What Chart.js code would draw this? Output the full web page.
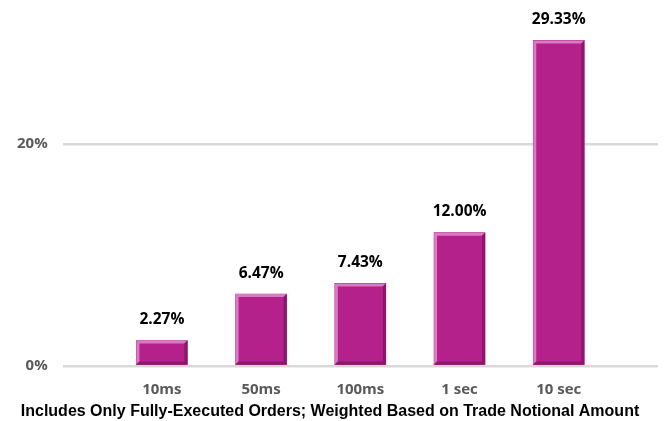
<!DOCTYPE html>
<html lang="en">
<head>
    <meta charset="UTF-8">
    <title>Fill Time Distribution</title>
    <script src="https://cdn.jsdelivr.net/npm/chart.js"></script>
    <style>
        body { margin: 0; background: #fff; }
        #wrap { width: 665px; height: 421px; }
    </style>
</head>
<body>
    <div id="wrap"><canvas id="fillChart"></canvas></div>
    <script>
        // data
        const categories = ['10ms', '50ms', '100ms', '1 sec', '10 sec'];
        const shares = [2.27, 6.47, 7.43, 12.00, 29.33];
        const yTicks = [0, 20];
        const footnote = 'Includes Only Fully-Executed Orders; Weighted Based on Trade Notional Amount';

        // one empty slot each side so the bars sit where the original has them
        const labels = [''].concat(categories, ['']);
        const values = [null].concat(shares, [null]);

        // bevelled bar edges + value labels on top
        const barDecor = {
            id: 'barDecor',
            afterDatasetsDraw(chart) {
                const ctx = chart.ctx;
                const meta = chart.getDatasetMeta(0);
                ctx.save();
                meta.data.forEach((bar, i) => {
                    if (values[i] == null) return;
                    const l = bar.x - bar.width / 2, r = bar.x + bar.width / 2;
                    const t = bar.y, b = bar.base;
                    const e = 3;
                    // light top / left
                    ctx.fillStyle = '#d77cc1';
                    ctx.beginPath();
                    ctx.moveTo(l, b); ctx.lineTo(l, t); ctx.lineTo(r, t);
                    ctx.lineTo(r - e, t + e); ctx.lineTo(l + e, t + e); ctx.lineTo(l + e, b - e);
                    ctx.closePath(); ctx.fill();
                    // dark bottom / right
                    ctx.fillStyle = '#8c166b';
                    ctx.beginPath();
                    ctx.moveTo(r, t); ctx.lineTo(r, b); ctx.lineTo(l, b);
                    ctx.lineTo(l + e, b - e); ctx.lineTo(r - e, b - e); ctx.lineTo(r - e, t + e);
                    ctx.closePath(); ctx.fill();

                    ctx.fillStyle = '#000';
                    ctx.font = 'bold 15.5px "Open Sans", sans-serif';
                    ctx.textAlign = 'center';
                    ctx.textBaseline = 'bottom';
                    ctx.fillText(values[i].toFixed(2) + '%', bar.x, t - 13);
                });
                ctx.restore();
            }
        };

        new Chart(document.getElementById('fillChart'), {
            type: 'bar',
            data: {
                labels: labels,
                datasets: [{
                    data: values,
                    backgroundColor: '#b5218b',
                    borderWidth: 0,
                    barThickness: 51
                }]
            },
            options: {
                responsive: true,
                maintainAspectRatio: false,
                animation: false,
                layout: { padding: { top: 33, right: 7, bottom: 0, left: 2 } },
                plugins: {
                    legend: { display: false },
                    tooltip: { enabled: false },
                    title: {
                        display: true,
                        position: 'bottom',
                        text: footnote,
                        color: '#000',
                        font: { family: '"Liberation Sans", Arial, sans-serif', size: 16, weight: 'bold' },
                        padding: { top: -12, bottom: 0 }
                    }
                },
                scales: {
                    x: {
                        offset: false,
                        grid: { display: false, drawTicks: false },
                        border: { display: false },
                        // tick padding otherwise eats into the right edge
                        afterFit(scale) {
                            scale.paddingLeft = 0;
                            scale.paddingRight = 0;
                        },
                        ticks: {
                            color: '#595959',
                            font: { family: '"Open Sans", sans-serif', size: 15, weight: 'bold' },
                            padding: 15,
                            maxRotation: 0,
                            autoSkip: false
                        }
                    },
                    y: {
                        min: 0,
                        max: 30,
                        afterBuildTicks(scale) {
                            scale.ticks = yTicks.map(v => ({ value: v }));
                        },
                        grid: { color: '#d9d9d9', lineWidth: 2.5, drawTicks: false },
                        border: { display: false },
                        ticks: {
                            color: '#595959',
                            font: { family: '"Open Sans", sans-serif', size: 15, weight: 'bold' },
                            padding: 15,
                            callback: v => v + '%'
                        }
                    }
                }
            },
            plugins: [barDecor]
        });
    </script>
</body>
</html>
